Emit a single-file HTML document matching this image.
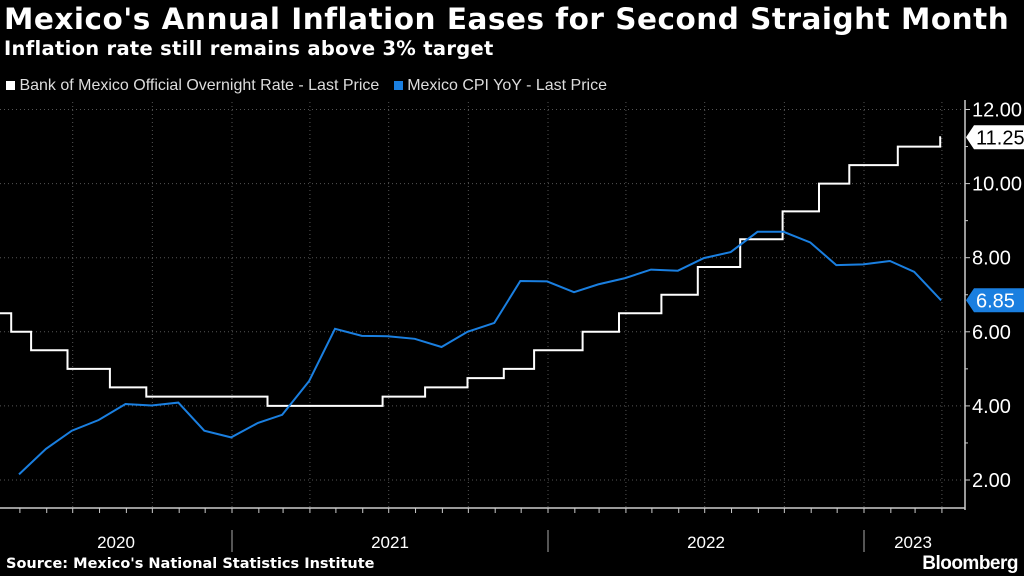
<!DOCTYPE html>
<html><head><meta charset="utf-8"><style>
body{margin:0;background:#000;width:1024px;height:576px;overflow:hidden;font-family:"Liberation Sans",sans-serif;color:#fff}
#t{position:absolute;left:4px;top:2px;font-size:29.5px;font-weight:bold;letter-spacing:0.5px;font-family:"DejaVu Sans","Liberation Sans",sans-serif}
#s{position:absolute;left:4px;top:37px;font-size:19.5px;font-weight:bold;letter-spacing:0.3px;font-family:"DejaVu Sans","Liberation Sans",sans-serif}
</style></head><body>
<div id="t">Mexico's Annual Inflation Eases for Second Straight Month</div>
<div id="s">Inflation rate still remains above 3% target</div>
<svg id="c" width="1024" height="576" style="position:absolute;left:0;top:0"></svg>
<script>
const cpiValues=[2.15,2.84,3.33,3.62,4.05,4.01,4.09,3.33,3.15,3.54,3.76,4.67,6.08,5.89,5.88,5.81,5.59,6.00,6.24,7.37,7.36,7.07,7.28,7.45,7.68,7.65,7.99,8.15,8.70,8.70,8.41,7.80,7.82,7.91,7.62,6.85];
const cpiStart=[2020,4];
const rateDates=["2020-04-01","2020-04-21","2020-05-14","2020-06-25","2020-08-13","2020-09-24","2021-02-11","2021-06-24","2021-08-12","2021-09-30","2021-11-11","2021-12-16","2022-02-10","2022-03-24","2022-05-12","2022-06-23","2022-08-11","2022-09-29","2022-11-10","2022-12-15","2023-02-09","2023-03-30"];
const rateValues=[6.5,6.0,5.5,5.0,4.5,4.25,4.0,4.25,4.5,4.75,5.0,5.5,6.0,6.5,7.0,7.75,8.5,9.25,10.0,10.5,11.0,11.25];
const rateEnd="2023-03-31";
const yTicks=[2,4,6,8,10,12];
const years=["2020","2021","2022","2023"];
const NS="http://www.w3.org/2000/svg";
const svg=document.getElementById('c');
const base=Date.UTC(2021,0,1);
function xd(d){return 232+(d-base)/864e5*316/365;}
function xs(s){const p=s.split('-');return xd(Date.UTC(+p[0],+p[1]-1,+p[2]));}
function y(v){return 480-(v-2)*37.05;}
function el(tag,a,par){const e=document.createElementNS(NS,tag);for(const k in a)e.setAttribute(k,a[k]);(par||svg).appendChild(e);return e;}
for(const v of yTicks){const g=el('line',{x1:0,x2:962,y1:y(v),y2:y(v),stroke:'#555','stroke-dasharray':'1,3'});

}
for(let m=0;m<14;m++){const yr=2020+Math.floor((3+m*3)/12),mo=(3+m*3)%12;const x=xd(Date.UTC(yr,mo,1));if(x>0&&x<962){const g=el('line',{x1:x,x2:x,y1:102,y2:508,stroke:'#555','stroke-dasharray':'1,3'});

}}
el('line',{x1:965,x2:965,y1:100,y2:510,stroke:'#ccc','stroke-width':1.5});
el('line',{x1:0,x2:965,y1:508,y2:508,stroke:'#ccc','stroke-width':1.5});
for(let v=2;v<=12;v++){el('line',{x1:965,x2:v%2?968:970,y1:y(v),y2:y(v),stroke:'#ccc'});}
for(const v of yTicks){const t=el('text',{x:972,y:y(v)+7,fill:'#fff','font-size':20});t.textContent=v.toFixed(2);

}
for(let m=0;m<40;m++){const x=xd(Date.UTC(2020,m,1));if(x>0&&x<962)el('line',{x1:x,x2:x,y1:508,y2:513,stroke:'#ccc'});}
const yb=[0,232,548,864,962];
for(let i=0;i<4;i++){if(i>0)el('line',{x1:yb[i],x2:yb[i],y1:530,y2:552,stroke:'#aaa'});
const t=el('text',{x:(yb[i]+yb[i+1])/2,y:548,fill:'#fff','font-size':17,'text-anchor':'middle'});t.textContent=years[i];

}
let d='';for(let i=0;i<rateDates.length;i++){const x=xs(rateDates[i]),yy=y(rateValues[i]);d+=(i?'H'+x.toFixed(1)+'V':'M'+Math.max(0,x).toFixed(1)+' ')+yy.toFixed(1);}
d+='H'+xs(rateEnd).toFixed(1);
const rl=el('path',{d:d,fill:'none',stroke:'#fff','stroke-width':2});


let pts=cpiValues.map((v,i)=>{const x=xd(Date.UTC(cpiStart[0],cpiStart[1]+i,0));return x.toFixed(1)+','+y(v).toFixed(1);});
const cl=el('polyline',{points:pts.join(' '),fill:'none',stroke:'#1a7fe0','stroke-width':2});


function callout(v,bg,fg,name){const yy=y(v);const g=el('g',{});
el('path',{d:`M966 ${yy} L974 ${yy-12} H1024 V${yy+12} H974 Z`,fill:bg},g);
const t=el('text',{x:976,y:yy+7,fill:fg,'font-size':20},g);t.textContent=v.toFixed(2);}
callout(rateValues[rateValues.length-1],'#fff','#000','rate-last-callout');
callout(cpiValues[cpiValues.length-1],'#1a7fe0','#fff','cpi-last-callout');
</script>
<div style="position:absolute;left:6px;top:77px;font-size:16px;color:#ddd">
<span><span style="display:inline-block;width:9px;height:9px;background:#fff"></span> Bank of Mexico Official Overnight Rate - Last Price</span>
<span style="margin-left:10px"><span style="display:inline-block;width:9px;height:9px;background:#1a7fe0"></span> Mexico CPI YoY - Last Price</span></div>
<div style="position:absolute;left:6px;top:556px;font-size:14.5px;font-weight:bold;font-family:'DejaVu Sans',sans-serif">Source: Mexico's National Statistics Institute</div>
<div style="position:absolute;right:6px;top:553px;font-size:19px;font-weight:bold;letter-spacing:-0.5px">Bloomberg</div>
</body></html>
